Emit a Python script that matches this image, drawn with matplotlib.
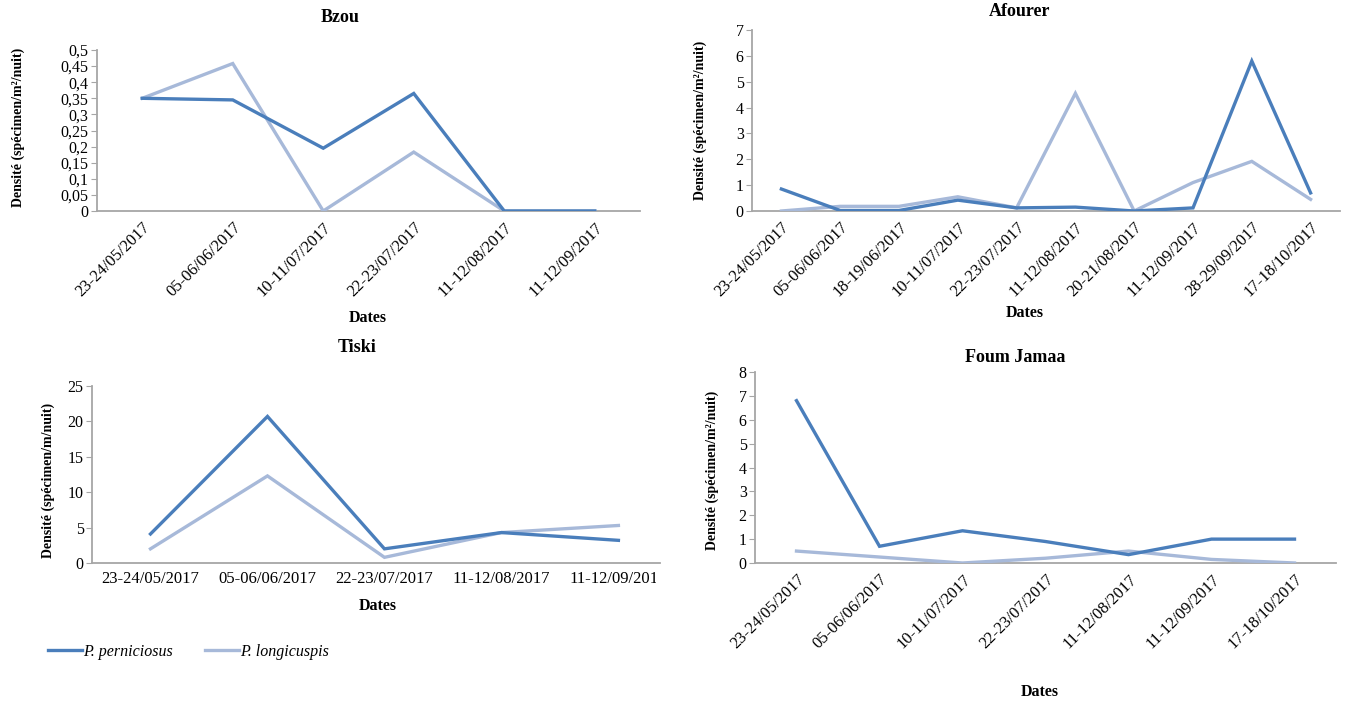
import matplotlib.pyplot as plt
import numpy as np
from matplotlib.transforms import Bbox

plt.rcParams['font.family'] = ['Liberation Serif', 'DejaVu Serif']

# Sampling dates per site
bzou_dates = ['23-24/05/2017', '05-06/06/2017', '10-11/07/2017',
              '22-23/07/2017', '11-12/08/2017', '11-12/09/2017']
afourer_dates = ['23-24/05/2017', '05-06/06/2017', '18-19/06/2017',
                 '10-11/07/2017', '22-23/07/2017', '11-12/08/2017',
                 '20-21/08/2017', '11-12/09/2017', '28-29/09/2017',
                 '17-18/10/2017']
tiski_dates = ['23-24/05/2017', '05-06/06/2017', '22-23/07/2017',
               '11-12/08/2017', '11-12/09/2017']
foum_dates = ['23-24/05/2017', '05-06/06/2017', '10-11/07/2017',
              '22-23/07/2017', '11-12/08/2017', '11-12/09/2017',
              '17-18/10/2017']

# Densities (P. perniciosus / P. longicuspis)
bzou_pern = [0.35, 0.345, 0.195, 0.365, 0.0, 0.0]
bzou_long = [0.35, 0.458, 0.0, 0.183, 0.0, 0.0]
afourer_pern = [0.85, 0.02, 0.02, 0.42, 0.12, 0.15, 0.0, 0.12, 5.8, 0.7]
afourer_long = [0.0, 0.18, 0.18, 0.55, 0.12, 4.55, 0.0, 1.1, 1.92, 0.45]
tiski_pern = [4.1, 20.7, 2.0, 4.3, 3.2]
tiski_long = [2.0, 12.3, 0.8, 4.3, 5.3]
foum_pern = [6.8, 0.7, 1.35, 0.9, 0.35, 1.0, 1.0]
foum_long = [0.5, 0.25, 0.0, 0.2, 0.5, 0.15, 0.0]

DARK = '#4a7ebb'
LIGHT = '#a7b9d9'
SPINE = '#a6a6a6'

W, H = 1346, 706
fig = plt.figure(figsize=(W / 100, H / 100), dpi=100)


def px_axes(left, right, top, bottom):
    return fig.add_axes([left / W, 1 - bottom / H, (right - left) / W, (bottom - top) / H])


def comma(v):
    return ('%g' % v).replace('.', ',')


def setup(ax, dates, pern, long_, ymax, step, rotate, xright=None):
    x = np.arange(len(dates))
    ax.plot(x, long_, color=LIGHT, lw=2.4, solid_joinstyle='miter', zorder=3)
    ax.plot(x, pern, color=DARK, lw=2.4, solid_joinstyle='miter', zorder=4)
    ax.set_ylim(0, ymax)
    ax.set_xlim(-0.5, len(dates) - 0.5 if xright is None else xright)
    ticks = np.arange(0, ymax + step / 2, step)
    ax.set_yticks(ticks)
    ax.set_yticklabels([comma(round(t, 3)) for t in ticks], fontsize=11.5)
    ax.set_xticks(x)
    if rotate:
        ax.set_xticklabels(dates, rotation=45, ha='right', rotation_mode='anchor', fontsize=12)
    else:
        ax.set_xticklabels(dates, fontsize=12)
    for s in ['top', 'right']:
        ax.spines[s].set_visible(False)
    for s in ['left', 'bottom']:
        ax.spines[s].set_color(SPINE)
        ax.spines[s].set_linewidth(1.3)
    ax.spines['bottom'].set_zorder(2)
    ax.tick_params(axis='y', length=4, color=SPINE, pad=2)
    ax.tick_params(axis='x', length=0, pad=6)
    ax.patch.set_alpha(0)


ylab = 'Densité (spécimen/m²/nuit)'

ax1 = px_axes(97, 640, 50, 211)
setup(ax1, bzou_dates, bzou_pern, bzou_long, 0.5, 0.05, True)
fig.text(340 / W, 1 - 18 / H, 'Bzou', ha='center', va='center', fontsize=13, fontweight='bold')
fig.text(18 / W, 1 - 127 / H, ylab, rotation=90, ha='center', va='center', fontsize=10, fontweight='bold')
fig.text(368 / W, 1 - 318 / H, 'Dates', ha='center', va='center', fontsize=11.5, fontweight='bold')

ax2 = px_axes(752, 1340, 30, 211)
setup(ax2, afourer_dates, afourer_pern, afourer_long, 7, 1, True)
fig.text(1020 / W, 1 - 12 / H, 'Afourer', ha='center', va='center', fontsize=13, fontweight='bold')
fig.text(700 / W, 1 - 120 / H, ylab, rotation=90, ha='center', va='center', fontsize=10, fontweight='bold')
fig.text(1025 / W, 1 - 313 / H, 'Dates', ha='center', va='center', fontsize=11.5, fontweight='bold')

# the last panel column is cut at the middle of the figure
ax3 = px_axes(92, 660, 386, 563)
setup(ax3, tiski_dates, tiski_pern, tiski_long, 25, 5, False, xright=4.5 - 17 / 117.6)
fig.text(357 / W, 1 - 347 / H, 'Tiski', ha='center', va='center', fontsize=13, fontweight='bold')
fig.text(48 / W, 1 - 480 / H, 'Densité (spécimen/m/nuit)', rotation=90, ha='center', va='center',
         fontsize=10, fontweight='bold')
fig.text(378 / W, 1 - 606 / H, 'Dates', ha='center', va='center', fontsize=11.5, fontweight='bold')
fig.canvas.draw()
clip = Bbox.from_extents(0, 0, 656, H)
for lab in ax3.get_xticklabels():
    lab.set_clip_box(clip)
    lab.set_clip_on(True)

ax4 = px_axes(755, 1336, 372, 563)
setup(ax4, foum_dates, foum_pern, foum_long, 8, 1, True)
fig.text(1015 / W, 1 - 358 / H, 'Foum Jamaa', ha='center', va='center', fontsize=13, fontweight='bold')
fig.text(712 / W, 1 - 470 / H, ylab, rotation=90, ha='center', va='center', fontsize=10, fontweight='bold')
fig.text(1040 / W, 1 - 692 / H, 'Dates', ha='center', va='center', fontsize=11.5, fontweight='bold')

h1, = ax3.plot([], [], color=DARK, lw=2.4)
h2, = ax3.plot([], [], color=LIGHT, lw=2.4)
fig.legend([h1, h2], ['P. perniciosus', 'P. longicuspis'], loc='center left',
           bbox_to_anchor=(42 / W, 1 - 652 / H), ncol=2, frameon=False,
           prop={'style': 'italic', 'size': 11.5}, handlelength=2.1, handletextpad=0.1,
           columnspacing=2.0, borderaxespad=0)

fig.savefig('out.png', dpi=100)
